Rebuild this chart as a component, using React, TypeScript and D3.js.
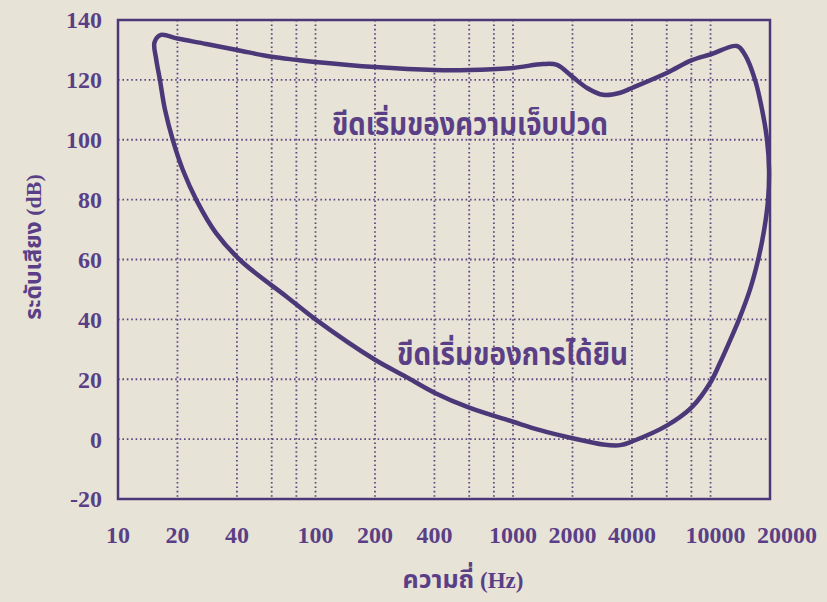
import React from "react";
import * as d3 from "d3";

// ---- data ----
const yTicks = [-20, 0, 20, 40, 60, 80, 100, 120, 140];
const xTickLabels = [10, 20, 40, 100, 200, 400, 1000, 2000, 4000, 10000, 20000];
const xGrid = [20, 40, 60, 80, 100, 200, 400, 600, 800, 1000, 2000, 4000, 6000, 8000, 10000];
const yGrid = [0, 20, 40, 60, 80, 100, 120];

// threshold of pain (upper curve), low -> high frequency, incl. right-hand bend
const painFreq = [15.3, 16.5, 20, 28, 40, 60, 80, 100, 200, 400, 600, 1000, 1420, 1670, 2000, 2370, 2860, 3490, 4000, 6000, 8000, 10000, 13600, 14960, 16800, 18240, 19320];
const painDb = [132.5, 135, 133.8, 132, 130, 127.7, 126.7, 126, 124.3, 123.3, 123.3, 124, 125.3, 125, 121, 117.3, 115, 115.7, 117.3, 122.3, 126.5, 128.5, 131.3, 128.3, 120, 110, 100];

// threshold of hearing (lower curve), low -> high frequency
const hearFreq = [15.6, 16.3, 17.3, 19.0, 21.3, 25.1, 31.3, 42, 71.7, 100, 200, 284, 400, 600, 1000, 1370, 2000, 2860, 3490, 4000, 6000, 8000, 10000, 11170, 12560, 13940, 15850, 17400, 18680, 19550, 19780];
const hearDb = [127, 120, 110, 99.6, 89.9, 79.5, 68.9, 59.5, 47.5, 40, 26.5, 21, 15.5, 10.5, 5.8, 3, 0.3, -1.8, -2, -0.8, 4.5, 10.5, 19, 25.5, 33, 40, 50, 59.8, 69.9, 79.9, 89.9];

const painLabel = "ขีดเริ่มของความเจ็บปวด";
const hearLabel = "ขีดเริ่มของการได้ยิน";
const xTitle = "ความถี่";
const yTitle = "ระดับเสียง";

const W = 827;
const H = 602;
const M = { left: 118, right: 770, top: 20, bottom: 499 };

const PURPLE = "#4b3878";
const TEXT = "#5a3f86";
const BG = "#e7e3d7";
const SERIF = "'Liberation Serif', 'Times New Roman', serif";
const THAI = "'Noto Sans Thai', 'Noto Serif Thai', 'Loma', 'Garuda', 'Sarabun', 'Norasi', 'Tlwg Typo', sans-serif";

export default function App() {
  const x = d3.scaleLog().domain([10, 20000]).range([M.left, M.right]);
  const y = d3.scaleLinear().domain([-20, 140]).range([M.bottom, M.top]);

  const pain = painFreq.map((f, i) => [f, painDb[i]] as [number, number]);
  const hear = hearFreq.map((f, i) => [f, hearDb[i]] as [number, number]);
  const loop = [...pain, ...hear.slice().reverse()];

  const line = d3
    .line<[number, number]>()
    .x((d) => x(d[0]))
    .y((d) => y(d[1]))
    .curve(d3.curveCatmullRomClosed.alpha(0.5));

  // x label placement: nudge the crowded right-hand labels apart
  const last = xTickLabels.length - 1;
  const labelX = (t: number, i: number) =>
    i === last ? x(t) + 17 : i === last - 1 ? x(t) + 5 : x(t);

  return (
    <svg
      width={W}
      height={H}
      style={{ position: "absolute", left: 0, top: 0, display: "block" }}
    >
      <rect x={0} y={0} width={W} height={H} fill={BG} />
      {/* grid */}
      <g stroke={PURPLE} strokeWidth={1.8} strokeDasharray="1.6 2.8" opacity={0.9}>
        {xGrid.map((g) => (
          <line key={"vx" + g} x1={x(g)} x2={x(g)} y1={M.top} y2={M.bottom} />
        ))}
        {yGrid.map((g) => (
          <line key={"hy" + g} x1={M.left} x2={M.right} y1={y(g)} y2={y(g)} />
        ))}
      </g>
      {/* frame */}
      <rect
        x={M.left}
        y={M.top}
        width={M.right - M.left}
        height={M.bottom - M.top}
        fill="none"
        stroke={PURPLE}
        strokeWidth={2.5}
      />
      {/* curve */}
      <path d={line(loop) || ""} fill="none" stroke={PURPLE} strokeWidth={4.5} strokeLinejoin="round" />

      {/* tick labels */}
      <g fontFamily={SERIF} fontWeight="bold" fontSize={24} fill={TEXT}>
        {yTicks.map((t) => (
          <text key={"yt" + t} x={102} y={y(t)} dy="0.35em" textAnchor="end">
            {t}
          </text>
        ))}
        {xTickLabels.map((t, i) => (
          <text key={"xt" + t} x={labelX(t, i)} y={543} textAnchor="middle">
            {t}
          </text>
        ))}
      </g>

      {/* curve labels */}
      <text
        x={332}
        y={135}
        fontFamily={THAI}
        fontWeight="bold"
        fontSize={31}
        fill={TEXT}
        textLength={276}
        lengthAdjust="spacingAndGlyphs"
      >
        {painLabel}
      </text>
      <text
        x={397}
        y={365}
        fontFamily={THAI}
        fontWeight="bold"
        fontSize={31}
        fill={TEXT}
        textLength={231}
        lengthAdjust="spacingAndGlyphs"
      >
        {hearLabel}
      </text>

      {/* axis titles */}
      <text x={463} y={588} textAnchor="middle" fill={TEXT} fontWeight="bold" fontSize={23}>
        <tspan fontFamily={THAI} fontSize={25}>{xTitle}</tspan>
        <tspan fontFamily={SERIF}> (Hz)</tspan>
      </text>
      <text
        transform={`translate(41, 247) rotate(-90)`}
        textAnchor="middle"
        fill={TEXT}
        fontWeight="bold"
        fontSize={22}
      >
        <tspan fontFamily={THAI} fontSize={23}>{yTitle}</tspan>
        <tspan fontFamily={SERIF}> (dB)</tspan>
      </text>
    </svg>
  );
}
